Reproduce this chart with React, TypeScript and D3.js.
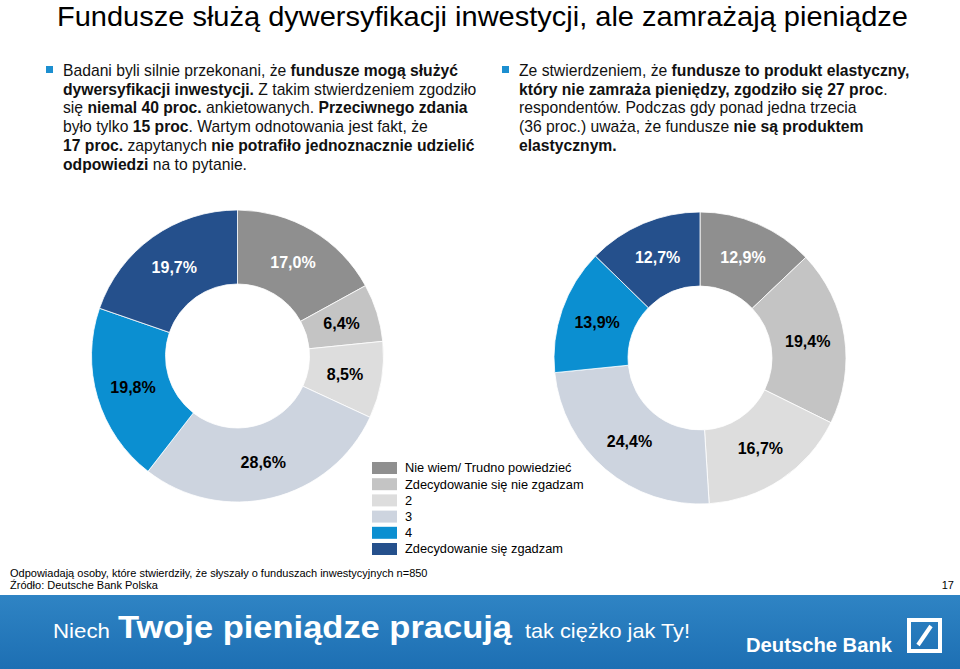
import React from 'react';
import * as d3 from 'd3';

const categories = [
  'Nie wiem/ Trudno powiedzieć',
  'Zdecydowanie się nie zgadzam',
  '2',
  '3',
  '4',
  'Zdecydowanie się zgadzam',
];
const leftValues = [17.0, 6.4, 8.5, 28.6, 19.8, 19.7];
const rightValues = [12.9, 19.4, 16.7, 24.4, 13.9, 12.7];
const sliceColors = ['#8f8f8f', '#c4c4c4', '#dddddd', '#cdd4df', '#0b8fd1', '#25508c'];
const labelColors = ['#ffffff', '#000000', '#000000', '#000000', '#000000', '#ffffff'];

type Span = [string, boolean];
const leftText: Span[][] = [
  [['Badani byli silnie przekonani, że ', false], ['fundusze mogą służyć', true]],
  [['dywersyfikacji inwestycji.', true], [' Z takim stwierdzeniem zgodziło', false]],
  [['się ', false], ['niemal 40 proc.', true], [' ankietowanych. ', false], ['Przeciwnego zdania', true]],
  [['było tylko ', false], ['15 proc', true], ['. Wartym odnotowania jest fakt, że', false]],
  [['17 proc.', true], [' zapytanych ', false], ['nie potrafiło jednoznacznie udzielić', true]],
  [['odpowiedzi', true], [' na to pytanie.', false]],
];
const rightText: Span[][] = [
  [['Ze stwierdzeniem, że ', false], ['fundusze to produkt elastyczny,', true]],
  [['który nie zamraża pieniędzy, zgodziło się 27 proc', true], ['.', false]],
  [['respondentów. Podczas gdy ponad jedna trzecia', false]],
  [['(36 proc.) uważa, że fundusze ', false], ['nie są produktem', true]],
  [['elastycznym.', true]],
];

const FONT = 'Liberation Sans, Arial, sans-serif';
const fmt = (v: number) => v.toFixed(1).replace('.', ',') + '%';

const Donut: React.FC<{ values: number[]; cx: number; cy: number }> = ({ values, cx, cy }) => {
  const outer = 146;
  const inner = 72;
  const pie = d3.pie<number>().value((d) => d).sort(null);
  const arc = d3.arc<d3.PieArcDatum<number>>().innerRadius(inner).outerRadius(outer);
  const arcs = pie(values);
  return (
    <g transform={`translate(${cx},${cy})`}>
      {arcs.map((a, i) => (
        <path key={i} d={arc(a) || ''} fill={sliceColors[i]} stroke="#ffffff" strokeWidth={0.8} />
      ))}
      {arcs.map((a, i) => {
        const [x, y] = arc.centroid(a);
        return (
          <text
            key={'t' + i}
            x={x}
            y={y}
            dy="0.35em"
            textAnchor="middle"
            fontSize={16}
            fontWeight="bold"
            fill={labelColors[i]}
            fontFamily={FONT}
          >
            {fmt(a.data)}
          </text>
        );
      })}
    </g>
  );
};

const Paragraph: React.FC<{ lines: Span[][]; x: number; y: number }> = ({ lines, x, y }) => (
  <g>
    <rect x={x - 17} y={y - 10} width={7} height={7} fill="#1c8fd0" />
    {lines.map((line, i) => (
      <text key={i} x={x} y={y + i * 18.7} fontSize={15.7} fill="#111111" fontFamily={FONT}>
        {line.map(([t, b], j) => (
          <tspan key={j} fontWeight={b ? 'bold' : 'normal'}>
            {t}
          </tspan>
        ))}
      </text>
    ))}
  </g>
);

const App: React.FC = () => {
  return (
    <svg
      width={960}
      height={669}
      style={{ position: 'absolute', left: 0, top: 0, background: '#ffffff' }}
      fontFamily={FONT}
    >
      <defs>
        <linearGradient id="banner" x1="0" y1="0" x2="0" y2="1">
          <stop offset="0%" stopColor="#2f84c4" />
          <stop offset="100%" stopColor="#1d6fb3" />
        </linearGradient>
      </defs>
      <text x={57} y={25.5} fontSize={28.5} fill="#000000" textLength={851} lengthAdjust="spacingAndGlyphs">
        Fundusze służą dywersyfikacji inwestycji, ale zamrażają pieniądze
      </text>

      <Paragraph lines={leftText} x={63} y={76} />
      <Paragraph lines={rightText} x={519} y={76} />

      <Donut values={leftValues} cx={237.5} cy={356} />
      <Donut values={rightValues} cx={700} cy={358} />

      <g transform="translate(372,462)">
        {categories.map((c, i) => (
          <g key={c} transform={`translate(0,${i * 16.2})`}>
            <rect width={25} height={12} fill={sliceColors[i]} />
            <text x={33} y={6} dy="0.35em" fontSize={12.8} fill="#000000">
              {c}
            </text>
          </g>
        ))}
      </g>

      <text x={10} y={577} fontSize={11} fill="#000000">
        Odpowiadają osoby, które stwierdziły, że słyszały o funduszach inwestycyjnych  n=850
      </text>
      <text x={10} y={589} fontSize={11} fill="#000000">
        Źródło: Deutsche Bank Polska
      </text>
      <text x={954} y={589} textAnchor="end" fontSize={11} fill="#000000">
        17
      </text>

      <rect x={0} y={595} width={960} height={74} fill="url(#banner)" />
      <text x={53} y={638} fontSize={21} fill="#ffffff" textLength={57} lengthAdjust="spacingAndGlyphs">
        Niech
      </text>
      <text x={118} y={638} fontSize={31} fontWeight="bold" fill="#ffffff" textLength={394} lengthAdjust="spacingAndGlyphs">
        Twoje pieniądze pracują
      </text>
      <text x={525} y={638} fontSize={21} fill="#ffffff" textLength={165} lengthAdjust="spacingAndGlyphs">
        tak ciężko jak Ty!
      </text>
      <text x={746} y={652} fontSize={20} fontWeight="bold" fill="#ffffff" textLength={146} lengthAdjust="spacingAndGlyphs">
        Deutsche Bank
      </text>
      <rect x={909} y={620} width={31} height={31} fill="none" stroke="#ffffff" strokeWidth={4} />
      <line x1={918} y1={645} x2={931} y2={626} stroke="#ffffff" strokeWidth={4} />
    </svg>
  );
};

export default App;
